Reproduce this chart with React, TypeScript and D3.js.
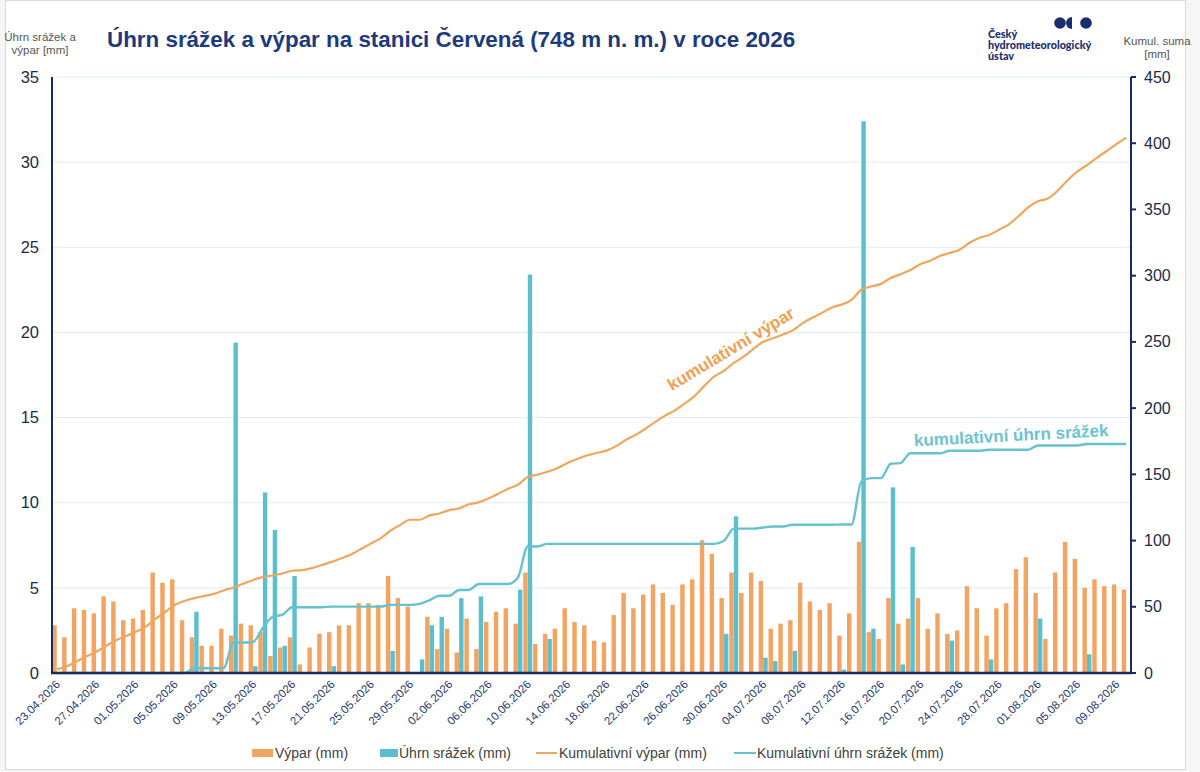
import * as d3 from "d3";

// denní data 23.04.2026 – 10.08.2026
const START = new Date(2026, 3, 23);
const dny = d3.timeDay.range(START, new Date(2026, 7, 11));

// výpar (mm)
const vypar = [
  2.8, 2.1, 3.8, 3.7, 3.5, 4.5, 4.2, 3.1, 3.2, 3.7,
  5.9, 5.3, 5.5, 3.1, 2.1, 1.6, 1.6, 2.6, 2.2, 2.9,
  2.8, 2.4, 1.0, 1.5, 2.1, 0.5, 1.5, 2.3, 2.4, 2.8,
  2.8, 4.1, 4.1, 4.0, 5.7, 4.4, 3.9, 0, 3.3, 1.4,
  2.6, 1.2, 3.2, 1.4, 3.0, 3.6, 3.8, 2.9, 5.9, 1.7,
  2.3, 2.6, 3.8, 3.0, 2.8, 1.9, 1.8, 3.4, 4.7, 3.8,
  4.6, 5.2, 4.7, 4.0, 5.2, 5.5, 7.8, 7.0, 4.4, 5.9,
  4.7, 5.9, 5.4, 2.6, 2.9, 3.1, 5.3, 4.2, 3.7, 4.1,
  2.2, 3.5, 7.7, 2.4, 2.0, 4.4, 2.9, 3.2, 4.4, 2.6,
  3.5, 2.3, 2.5, 5.1, 3.8, 2.2, 3.8, 4.1, 6.1, 6.8,
  4.7, 2.0, 5.9, 7.7, 6.7, 5.0, 5.5, 5.1, 5.2, 4.9,
];

// úhrn srážek (mm)
const srazky = [
  0, 0, 0, 0, 0, 0, 0, 0, 0, 0,
  0, 0, 0, 0, 3.6, 0, 0, 0, 19.4, 0,
  0.4, 10.6, 8.4, 1.6, 5.7, 0, 0, 0, 0.4, 0,
  0, 0, 0, 0, 1.3, 0, 0, 0.8, 2.8, 3.3,
  0, 4.4, 0, 4.5, 0, 0, 0, 4.9, 23.4, 0,
  2.0, 0, 0, 0, 0, 0, 0, 0, 0, 0,
  0, 0, 0, 0, 0, 0, 0, 0, 2.3, 9.2,
  0, 0, 0.9, 0.7, 0, 1.3, 0, 0, 0, 0,
  0.2, 0, 32.4, 2.6, 0, 10.9, 0.5, 7.4, 0, 0,
  0, 1.9, 0, 0, 0, 0.8, 0, 0, 0, 0,
  3.2, 0, 0, 0, 0, 1.1, 0, 0, 0, 0,
];

const levyTicks = [0, 5, 10, 15, 20, 25, 30, 35];
const pravyTicks = [0, 50, 100, 150, 200, 250, 300, 350, 400, 450];

const ORANZ = "#f2a460";
const TYRK = "#5bbfce";
const ORANZ_L = "#f0a65c";
const TYRK_L = "#66c2cf";
const NAVY = "#1b2a5e";
const FONT = "'Liberation Sans', Arial, sans-serif";

const M = { left: 52, right: 1131, top: 77, bottom: 673 };

export default function App() {
  const x = d3.scaleBand<number>()
    .domain(d3.range(dny.length))
    .range([M.left, M.right])
    .paddingInner(0.06)
    .paddingOuter(0.02);
  const xs = d3.scaleBand<string>().domain(["v", "s"]).range([0, x.bandwidth()]).padding(0.03);
  const y = d3.scaleLinear().domain([0, 35]).range([M.bottom, M.top]);
  const y2 = d3.scaleLinear().domain([0, 450]).range([M.bottom, M.top]);

  const cumV = Array.from(d3.cumsum(vypar));
  const cumS = Array.from(d3.cumsum(srazky));
  const cx = (i: number) => (x(i) as number) + x.bandwidth() / 2;
  const line = d3.line<number>().x((_, i) => cx(i)).y((d) => y2(d)).curve(d3.curveMonotoneX);
  const fmt = d3.timeFormat("%d.%m.%Y");

  return (
    <svg width={1200} height={772} style={{ position: "absolute", left: 0, top: 0 }} fontFamily={FONT}>
      <rect x={0} y={0} width={1200} height={772} fill="#f6f6f6" />
      <rect x={5.5} y={0.5} width={1180} height={769} fill="#fff" stroke="#dadada" />

      {/* titulky */}
      <text x={107} y={47} fontSize={22.4} fontWeight="bold" fill="#1c3a7e">
        Úhrn srážek a výpar na stanici Červená (748 m n. m.) v roce 2026
      </text>
      <text x={40} y={41} fontSize={11.5} fill="#555" textAnchor="middle">
        <tspan x={40}>Úhrn srážek a</tspan>
        <tspan x={40} dy={13}>výpar [mm]</tspan>
      </text>
      <text x={1157} y={45} fontSize={11.5} fill="#555" textAnchor="middle">
        <tspan x={1157}>Kumul. suma</tspan>
        <tspan x={1157} dy={13}>[mm]</tspan>
      </text>

      {/* logo */}
      <g fill="#1b2d6e">
        <circle cx={1060} cy={23} r={5.8} />
        <path d="M1072,17 A6,6 0 0,0 1072,29 Z" />
        <circle cx={1086} cy={23} r={5.8} />
        <text x={988} y={38} fontSize={10.8} fontWeight="900" fontFamily="Lato, sans-serif">
          <tspan x={988}>Český</tspan>
          <tspan x={988} dy={11}>hydrometeorologický</tspan>
          <tspan x={988} dy={11}>ústav</tspan>
        </text>
      </g>

      {/* mřížka */}
      {levyTicks.slice(1).map((t) => (
        <line key={t} x1={M.left} x2={M.right} y1={y(t)} y2={y(t)} stroke="#dcedf3" strokeWidth={1} />
      ))}

      {/* sloupce */}
      {vypar.map((v, i) => (
        <rect key={"v" + i} x={(x(i) as number) + (xs("v") as number)} width={xs.bandwidth()}
          y={y(v)} height={M.bottom - y(v)} fill={ORANZ} />
      ))}
      {srazky.map((v, i) => v > 0 && (
        <rect key={"s" + i} x={(x(i) as number) + (xs("s") as number)} width={xs.bandwidth()}
          y={y(v)} height={M.bottom - y(v)} fill={TYRK} />
      ))}

      {/* kumulativní čáry */}
      <path d={line(cumV) as string} fill="none" stroke={ORANZ_L} strokeWidth={2.2} />
      <path d={line(cumS) as string} fill="none" stroke={TYRK_L} strokeWidth={2.4} />

      <text transform={`translate(${cx(69)},${y2(241)}) rotate(-31)`} textAnchor="middle"
        fontSize={17} fontWeight="bold" fill="#f0a050">kumulativní výpar</text>
      <text transform={`translate(${cx(97) + 3},${y2(175)}) rotate(-3)`} textAnchor="middle"
        fontSize={17} fontWeight="bold" fill="#6cc4d0">kumulativní úhrn srážek</text>

      {/* osy */}
      <line x1={M.left} x2={M.left} y1={M.top} y2={M.bottom} stroke={NAVY} strokeWidth={2} />
      <line x1={M.right} x2={M.right} y1={M.top} y2={M.bottom} stroke={NAVY} strokeWidth={2} />
      <line x1={M.left - 1} x2={M.right + 1} y1={M.bottom} y2={M.bottom} stroke={NAVY} strokeWidth={2.5} />

      {levyTicks.map((t) => (
        <text key={t} x={39} y={y(t)} dy="0.35em" textAnchor="end" fontSize={16.5} fill="#1c2a4a">{t}</text>
      ))}
      {pravyTicks.map((t) => (
        <g key={t}>
          <line x1={M.right} x2={M.right + 5} y1={y2(t)} y2={y2(t)} stroke={NAVY} strokeWidth={2} />
          <text x={1144} y={y2(t)} dy="0.35em" fontSize={16} fill="#1c2a4a">{t}</text>
        </g>
      ))}

      {dny.map((d, i) => i % 4 === 0 && (
        <text key={i} transform={`translate(${cx(i) + 4},${685}) rotate(-45)`} textAnchor="end"
          fontSize={11.5} fill="#1f3a70">{fmt(d)}</text>
      ))}

      {/* legenda */}
      <g fontSize={14} fill="#404040">
        <rect x={252} y={749} width={21} height={8} fill={ORANZ} />
        <text x={275} y={758}>Výpar (mm)</text>
        <rect x={380} y={749} width={18} height={8} fill={TYRK} />
        <text x={399} y={758}>Úhrn srážek (mm)</text>
        <line x1={536} x2={557} y1={753} y2={753} stroke={ORANZ_L} strokeWidth={2} />
        <text x={559} y={758}>Kumulativní výpar (mm)</text>
        <line x1={734} x2={756} y1={753} y2={753} stroke={TYRK_L} strokeWidth={2} />
        <text x={757} y={758}>Kumulativní úhrn srážek (mm)</text>
      </g>
    </svg>
  );
}
